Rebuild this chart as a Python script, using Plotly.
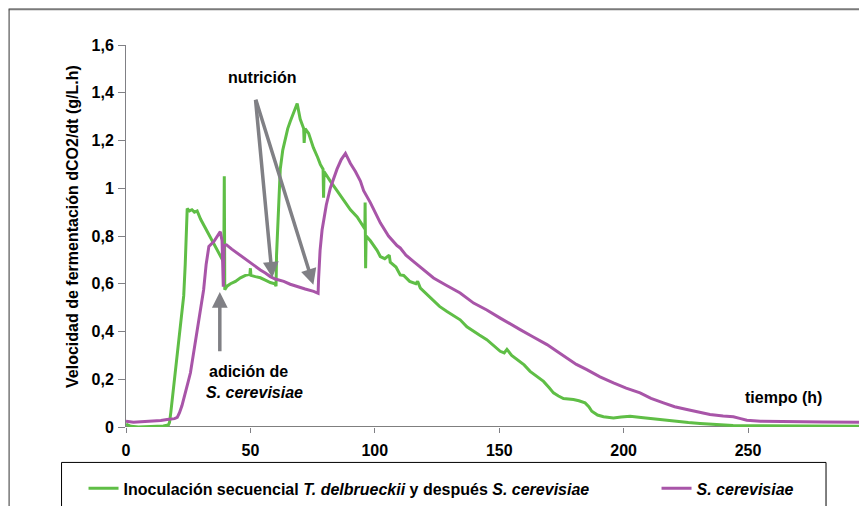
import plotly.graph_objects as go

# ---- data ----
green_name = "Inoculación secuencial <i>T. delbrueckii</i> y después <i>S. cerevisiae</i>"
green_t = [0, 2, 5, 10, 15, 17, 17.5, 18, 19, 20, 20.6, 21.5, 22.5, 23.2, 23.8, 24.3, 24.6, 25.5, 26.5, 27.5,
           28.6, 30, 32, 34, 36, 38.6, 39.3, 39.5, 39.7, 40.6, 42, 44, 46, 48, 49.8, 50, 50.2, 52, 54, 56, 58,
           59.8, 60.3, 60.5, 61, 61.5, 62, 63, 64, 65, 66, 67, 68, 68.8, 70, 71.4, 71.6, 72, 73.4, 75.3, 77,
           78.1, 79.2, 79.4, 79.6, 80.8, 82.1, 84.8, 87.5, 90.2, 92.9, 95.5, 96.0, 96.1, 96.3, 96.5, 98.2,
           100.9, 102.2, 104, 105.8, 106.2, 108.5, 110.2, 111.6, 114, 116.5, 117.2, 118.3, 120, 123.6, 126,
           129, 131, 134.3, 137, 139.7, 142, 145, 148, 150.4, 152, 153.1, 155, 157.1, 160, 162.4, 165, 167.8,
           170, 171.8, 173.8, 175.8, 179.8, 182, 184.5, 186, 187.2, 189.5, 191.9, 195.9, 199, 202.6, 207, 212,
           216, 221.4, 226, 230.7, 237, 244, 252, 262, 275, 290, 298]
green_v = [0.012, 0.003, 0.0, 0.002, 0.004, 0.008, 0.02, 0.06, 0.15, 0.25, 0.3, 0.39, 0.48, 0.55, 0.68, 0.82,
           0.915, 0.905, 0.91, 0.9, 0.905, 0.87, 0.83, 0.79, 0.75, 0.70, 0.69, 1.05, 0.575, 0.59, 0.6, 0.61,
           0.625, 0.635, 0.64, 0.665, 0.635, 0.63, 0.625, 0.615, 0.605, 0.6, 0.59, 0.72, 0.85, 0.97, 1.08,
           1.16, 1.21, 1.25, 1.28, 1.31, 1.34, 1.355, 1.29, 1.25, 1.19, 1.25, 1.23, 1.17, 1.13, 1.1, 1.08,
           0.96, 1.07, 1.05, 1.03, 0.99, 0.95, 0.91, 0.88, 0.84, 0.83, 0.94, 0.665, 0.8, 0.78, 0.74, 0.714,
           0.705, 0.72, 0.69, 0.67, 0.637, 0.635, 0.61, 0.6, 0.61, 0.582, 0.565, 0.526, 0.505, 0.484, 0.47,
           0.449, 0.42, 0.40, 0.385, 0.366, 0.34, 0.317, 0.31, 0.325, 0.3, 0.282, 0.26, 0.233, 0.212, 0.191,
           0.165, 0.143, 0.13, 0.119, 0.115, 0.11, 0.101, 0.085, 0.066, 0.05, 0.043, 0.038, 0.042, 0.045,
           0.04, 0.034, 0.03, 0.024, 0.019, 0.015, 0.01, 0.006, 0.005, 0.004, 0.003, 0.003, 0.003]

mag_name = "<i>S. cerevisiae</i>"
mag_t = [0, 3, 6, 10, 14, 16.5, 18, 19.5, 20.6, 21.5, 22.5, 23.2, 24, 25, 25.9, 27, 28, 29, 29.9, 31.2, 32.2,
         33.3, 35.3, 36.6, 37.9, 38.6, 38.9, 39.1, 39.4, 40.4, 42.5, 44.7, 47, 50, 52, 54, 56, 58, 60, 63.4,
         66, 68.8, 72, 75.4, 77.2, 77.4, 78, 78.8, 79.4, 80.5, 82.1, 84.8, 86.5, 88.2, 90.2, 92.2, 94.2, 95.5,
         98.2, 100, 102.2, 105.5, 108.9, 110.2, 112.5, 115.6, 119.5, 123.6, 128.5, 134.3, 139.7, 145, 150.4,
         154.5, 158.4, 163.5, 169.2, 173, 177.2, 181, 185.2, 190.5, 195.9, 201, 206.6, 211, 216, 220.5, 225.4,
         230, 234.7, 240, 244.1, 247, 249.5, 255, 265, 280, 298]
mag_v = [0.024, 0.02, 0.022, 0.024, 0.027, 0.031, 0.033, 0.035, 0.04, 0.06, 0.09, 0.115, 0.15, 0.19, 0.227,
         0.3, 0.37, 0.44, 0.5, 0.575, 0.68, 0.756, 0.777, 0.797, 0.818, 0.78, 0.6, 0.588, 0.76, 0.763, 0.745,
         0.728, 0.71, 0.686, 0.67, 0.658, 0.645, 0.63, 0.62, 0.61, 0.598, 0.588, 0.578, 0.568, 0.56, 0.62,
         0.74, 0.825, 0.87, 0.93, 1.0, 1.08, 1.12, 1.146, 1.104, 1.07, 1.03, 0.99, 0.94, 0.9, 0.855, 0.8,
         0.76, 0.75, 0.72, 0.693, 0.66, 0.624, 0.595, 0.561, 0.519, 0.49, 0.456, 0.43, 0.408, 0.378, 0.345,
         0.318, 0.289, 0.262, 0.24, 0.21, 0.185, 0.163, 0.143, 0.12, 0.101, 0.085, 0.073, 0.062, 0.052,
         0.046, 0.043, 0.035, 0.028, 0.024, 0.022, 0.021, 0.02]

x_ticks = [0, 50, 100, 150, 200, 250]
y_ticks = [0, 0.2, 0.4, 0.6, 0.8, 1.0, 1.2, 1.4, 1.6]
y_ticktext = ["0", "0,2", "0,4", "0,6", "0,8", "1", "1,2", "1,4", "1,6"]

# annotation anchor points (data units)
nutri_tail = (52, 1.377)
nutri_heads = [(58.8, 0.625), (75.3, 0.596)]
adicion_tail = (37.7, 0.311)
adicion_head = (37.7, 0.565)

GREEN = "#5FBE46"
MAG = "#A855A8"
GRAY = "#808085"
FONT = "Liberation Sans, Arial, sans-serif"
FS = 16

# the page body adds an 8px offset; figure sized to fit the visible window
OFF = 8
W, H = 859, 498
ML, MR, MT, MB = 117.5, 0, 36.7, 78.5
PW, PH = W - ML - MR, H - MT - MB


def px(xw):
    return (xw - OFF - ML) / PW


def py(yw):
    return (H - MB - (yw - OFF)) / PH


fig = go.Figure()
fig.add_trace(go.Scatter(x=green_t, y=green_v, mode="lines", name=green_name, legendwidth=528,
                         line=dict(color=GREEN, width=3)))
fig.add_trace(go.Scatter(x=mag_t, y=mag_v, mode="lines", name=mag_name,
                         line=dict(color=MAG, width=3)))

annotations = []
for hx, hy in nutri_heads:
    annotations.append(dict(x=hx, y=hy, ax=nutri_tail[0], ay=nutri_tail[1], xref="x", yref="y",
                            axref="x", ayref="y", text="", showarrow=True, arrowhead=2,
                            arrowsize=0.9, arrowwidth=3.5, arrowcolor=GRAY, standoff=0))
annotations.append(dict(x=adicion_head[0], y=adicion_head[1], ax=adicion_tail[0], ay=adicion_tail[1],
                        xref="x", yref="y", axref="x", ayref="y", text="", showarrow=True, arrowhead=2,
                        arrowsize=0.9, arrowwidth=3.5, arrowcolor=GRAY, standoff=0))
annotations += [
    dict(x=px(262), y=py(77), xref="paper", yref="paper", text="<b>nutrición</b>", showarrow=False,
         xanchor="center", yanchor="middle", font=dict(family=FONT, size=FS, color="black")),
    dict(x=px(207), y=py(372), xref="paper", yref="paper", text="<b>adición de</b>", showarrow=False,
         xanchor="left", yanchor="middle", font=dict(family=FONT, size=FS, color="black")),
    dict(x=px(204), y=py(393), xref="paper", yref="paper", text="<b><i>S. cerevisiae</i></b>",
         showarrow=False, xanchor="left", yanchor="middle", font=dict(family=FONT, size=FS, color="black")),
    dict(x=px(783), y=py(398), xref="paper", yref="paper", text="<b>tiempo (h)</b>", showarrow=False,
         xanchor="center", yanchor="middle", font=dict(family=FONT, size=FS, color="black")),
    dict(x=px(72), y=py(226.5), xref="paper", yref="paper", textangle=-90,
         text="<b>Velocidad de fermentación dCO2/dt (g/L.h)</b>", showarrow=False,
         xanchor="center", yanchor="middle", font=dict(family=FONT, size=FS, color="black")),
]

shapes = [
    # x axis line (black)
    dict(type="line", xref="x", yref="y", x0=0, x1=277, y0=0, y1=0,
         line=dict(color="black", width=1.2), layer="below"),
    # outer frame (top and left)
    dict(type="line", xref="paper", yref="paper", x0=px(8), x1=px(880), y0=py(9), y1=py(9),
         line=dict(color="#7a7a7a", width=2)),
    dict(type="line", xref="paper", yref="paper", x0=px(8.5), x1=px(8.5), y0=py(9), y1=py(520),
         line=dict(color="#333333", width=1)),
    # legend box
    dict(type="rect", xref="paper", yref="paper", x0=px(61), x1=px(826), y0=py(463), y1=py(530),
         line=dict(color="black", width=1), fillcolor="rgba(0,0,0,0)"),
]

fig.update_layout(
    width=W, height=H,
    margin=dict(l=ML, r=MR, t=MT, b=MB, autoexpand=False),
    paper_bgcolor="white", plot_bgcolor="white",
    font=dict(family=FONT, size=FS, color="black"),
    showlegend=True,
    legend=dict(orientation="h", x=px(83), y=py(472), xanchor="left", yanchor="top",
                font=dict(family=FONT, size=FS, color="black", weight="bold"),
                bgcolor="rgba(0,0,0,0)", borderwidth=0),
    annotations=annotations,
    shapes=shapes,
)
fig.update_xaxes(range=[0, 297.8], tickvals=x_ticks, ticktext=[str(v) for v in x_ticks],
                 ticks="outside", ticklen=5, tickcolor=GRAY, tickwidth=1,
                 showline=False, showgrid=False, zeroline=False,
                 ticklabelstandoff=4,
                 tickfont=dict(family=FONT, size=FS, color="black", weight="bold"))
fig.update_yaxes(range=[0, 1.6], tickvals=y_ticks, ticktext=y_ticktext,
                 ticks="outside", ticklen=7, tickcolor=GRAY, tickwidth=1,
                 showline=True, linecolor=GRAY, linewidth=1,
                 showgrid=False, zeroline=False, ticklabelstandoff=1,
                 tickfont=dict(family=FONT, size=FS, color="black", weight="bold"))

fig.write_html("out.html")
